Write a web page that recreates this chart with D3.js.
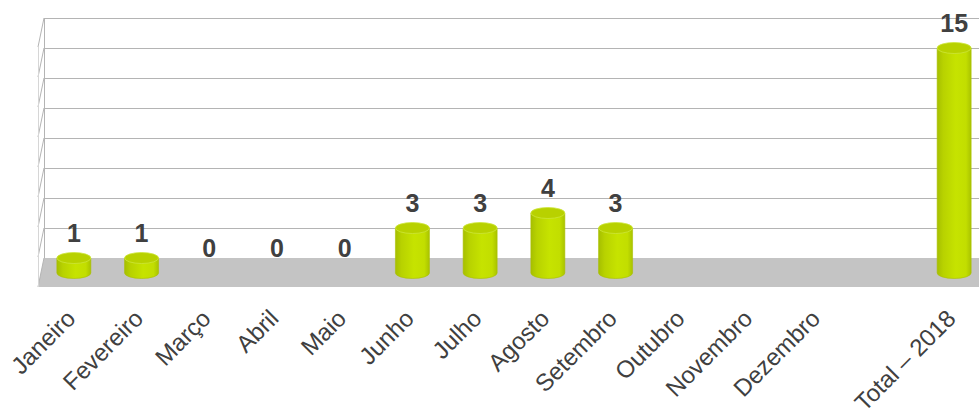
<!DOCTYPE html>
<html><head><meta charset="utf-8">
<script src="https://cdn.jsdelivr.net/npm/d3@7/dist/d3.min.js"></script>
<style>body{margin:0;background:#fff}svg{display:block}text{font-family:"Liberation Sans",Arial,sans-serif}</style>
</head><body>
<script>
const categories = ["Janeiro","Fevereiro","Março","Abril","Maio","Junho","Julho","Agosto","Setembro","Outubro","Novembro","Dezembro","","Total – 2018"];
const values = [1,1,0,0,0,3,3,4,3,null,null,null,null,15];
const gridTicks = [0,2,4,6,8,10,12,14,16];

const W = 979, H = 410;
const svg = d3.select("body").append("svg").attr("width", W).attr("height", H);

// depth offsets (back wall -> front)
const depthDx = -6, depthDy = 29;
const x = d3.scaleBand().domain(categories).range([40, 988]).paddingInner(0).paddingOuter(0);
const yBack = d3.scaleLinear().domain([0,16]).range([258, 18]);
const yMid = d3.scaleLinear().domain([0,16]).range([273, 33]);
const backLeft = 44, backRight = 1000;

const defs = svg.append("defs");
const g1 = defs.append("linearGradient").attr("id","cyl").attr("x1","0").attr("x2","1").attr("y1","0").attr("y2","0");
[["0%","#a6bf00"],["18%","#b8d200"],["55%","#c6e300"],["85%","#c2de00"],["100%","#a9c300"]].forEach(s=>g1.append("stop").attr("offset",s[0]).attr("stop-color",s[1]));

// floor
svg.append("path")
  .attr("d", `M${backLeft},${yBack(0)} L${backRight},${yBack(0)} L${backRight+depthDx},${yBack(0)+depthDy} L${backLeft+depthDx},${yBack(0)+depthDy} Z`)
  .attr("fill", "#c4c4c4");

// back wall gridlines
svg.append("g").selectAll("line").data(gridTicks.slice(1)).join("line")
  .attr("x1", backLeft).attr("x2", W).attr("y1", d=>yBack(d)+0.5).attr("y2", d=>yBack(d)+0.5)
  .attr("stroke", "#b4b4b4").attr("stroke-width", 1.2);
// left side wall lines
svg.append("g").selectAll("line").data(gridTicks).join("line")
  .attr("x1", backLeft).attr("y1", d=>yBack(d)).attr("x2", backLeft+depthDx).attr("y2", d=>yBack(d)+depthDy)
  .attr("stroke", "#b4b4b4").attr("stroke-width", 1);
svg.append("line").attr("x1", backLeft+0.5).attr("x2", backLeft+0.5).attr("y1", yBack(16)).attr("y2", yBack(0))
  .attr("stroke", "#b4b4b4").attr("stroke-width", 1);
svg.append("line").attr("x1", backLeft+depthDx+0.5).attr("x2", backLeft+depthDx+0.5).attr("y1", yBack(16)+depthDy).attr("y2", yBack(0)+depthDy)
  .attr("stroke", "#d6d6d6").attr("stroke-width", 1);

// bars
const rx = 17, ry = 5.5;
const barData = categories.map((c,i)=>({c, v: values[i]})).filter(d=>d.v !== null);
const bars = svg.append("g");
barData.filter(d=>d.v>0).forEach(d=>{
  const cx = x(d.c) + x.bandwidth()/2;
  const yt = yMid(d.v), yb = yMid(0);
  bars.append("path")
    .attr("d", `M${cx-rx},${yt} L${cx-rx},${yb} A${rx},${ry} 0 0 0 ${cx+rx},${yb} L${cx+rx},${yt} Z`)
    .attr("fill", "url(#cyl)").attr("stroke", "#a9c000").attr("stroke-width", 0.6);
  bars.append("ellipse").attr("cx", cx).attr("cy", yt).attr("rx", rx).attr("ry", ry)
    .attr("fill", "#b8d100").attr("stroke", "#cde63a").attr("stroke-width", 0.8);
});

// value labels
svg.append("g").selectAll("text").data(barData).join("text")
  .attr("x", d=>x(d.c)+x.bandwidth()/2)
  .attr("y", d=>yMid(d.v)-16)
  .attr("text-anchor","middle")
  .attr("font-size", 25).attr("font-weight","bold").attr("fill","#404040")
  .text(d=>d.v);

// category axis labels
const axis = d3.axisBottom(x).tickSize(0).tickPadding(0).tickFormat(d=>d);
const ag = svg.append("g").attr("transform", `translate(0,0)`).call(axis);
ag.select(".domain").remove();
ag.selectAll(".tick text")
  .attr("transform", "translate(3,320) rotate(-45)")
  .attr("y", 0).attr("dy", 0)
  .attr("text-anchor","end")
  .attr("font-size", 24).attr("font-family", "'Liberation Sans', Arial, sans-serif")
  .attr("fill", "#404040");
</script>
</body></html>
